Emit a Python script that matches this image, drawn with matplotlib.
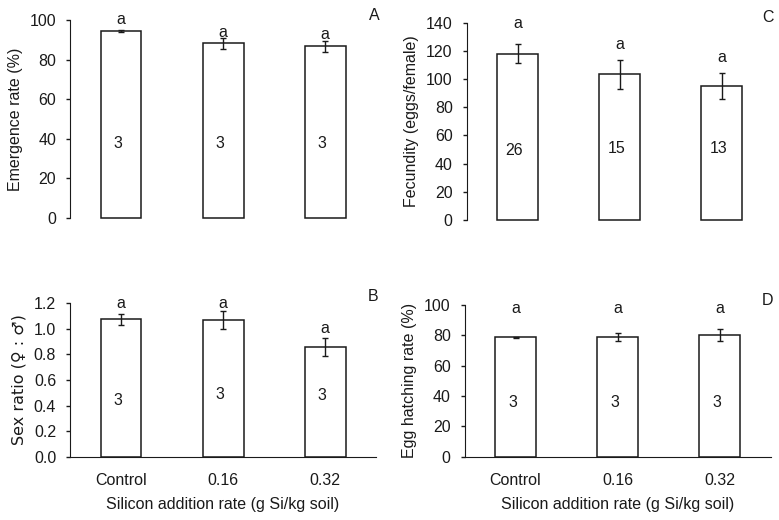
import matplotlib.pyplot as plt

plt.rcParams['font.family'] = ['Liberation Sans', 'DejaVu Sans']

treatments = ["Control", "0.16", "0.32"]

# A: emergence rate (%)
emerge_mean = [94.5, 88.3, 86.8]
emerge_se = [0.5, 2.7, 2.8]
emerge_n = ["3", "3", "3"]
emerge_letter_y = [100.3, 93.8, 92.8]
emerge_n_y = [37.4, 37.4, 37.4]

# B: sex ratio
sex_mean = [1.077, 1.07, 0.861]
sex_se = [0.043, 0.07, 0.07]
sex_n = ["3", "3", "3"]
sex_letter_y = [1.195, 1.195, 1.0]
sex_n_y = [0.436, 0.483, 0.475]

# C: fecundity (eggs/female)
fec_mean = [118.0, 103.5, 95.0]
fec_se = [6.6, 10.3, 9.0]
fec_n = ["26", "15", "13"]
fec_letter_y = [139.4, 124.3, 115.5]
fec_n_y = [49.0, 50.5, 50.5]

# D: egg hatching rate (%)
hatch_mean = [78.6, 78.9, 80.2]
hatch_se = [0.6, 2.7, 3.8]
hatch_n = ["3", "3", "3"]
hatch_letter_y = [98.0, 98.0, 98.0]
hatch_n_y = [35.7, 35.7, 35.7]

fig = plt.figure(figsize=(7.79, 5.2), dpi=100)

ink = '#1a1a1a'
fs = 11.5


def panel(rect, mean, se, n, letter_y, n_y, ylim, yticks, ylabel, tag, tagpos, bottom,
          label_family=None):
    ax = fig.add_axes(rect)
    x = range(len(mean))
    bars = ax.bar(x, mean, width=0.4, color='white', edgecolor=ink, linewidth=1.1)
    for b in bars:
        b.set_clip_on(False)
    ax.errorbar(x, mean, yerr=se, fmt='none', ecolor=ink, elinewidth=1.0,
                capsize=2, capthick=1.0)
    for xi, ly, ny, lab in zip(x, letter_y, n_y, n):
        ax.text(xi, ly, "a", ha='center', va='center', fontsize=fs, color=ink)
        ax.text(xi - 0.03, ny, lab, ha='center', va='center', fontsize=fs, color=ink)
    ax.set_xlim(-0.5, 2.5)
    ax.set_ylim(*ylim)
    ax.set_yticks(yticks)
    ax.set_yticklabels([f"{t:.1f}" if isinstance(t, float) else str(t) for t in yticks])
    ax.spines['top'].set_visible(False)
    ax.spines['right'].set_visible(False)
    ax.spines['left'].set_color(ink)
    ax.tick_params(axis='y', direction='out', length=3, width=1, pad=7,
                   labelsize=fs, colors=ink)
    if label_family:
        ax.set_ylabel(ylabel, fontsize=fs, color=ink, labelpad=5, family=label_family)
    else:
        ax.set_ylabel(ylabel, fontsize=fs, color=ink, labelpad=5)
    ax.set_xticks(list(x))
    if bottom:
        ax.spines['bottom'].set_color(ink)
        ax.set_xticklabels(treatments)
        ax.tick_params(axis='x', length=0, pad=12, labelsize=fs, colors=ink)
        ax.set_xlabel("Silicon addition rate (g Si/kg soil)", fontsize=fs,
                      color=ink, labelpad=6)
    else:
        ax.spines['bottom'].set_visible(False)
        ax.set_xticklabels([])
        ax.tick_params(axis='x', length=0)
    fig.text(tagpos[0], tagpos[1], tag, ha='center', va='center', fontsize=fs, color=ink)
    return ax


panel([0.0899, 0.5808, 0.393, 0.3807], emerge_mean, emerge_se, emerge_n,
      emerge_letter_y, emerge_n_y, (0, 100), [0, 20, 40, 60, 80, 100],
      "Emergence rate (%)", "A", (0.480, 0.971), False)

panel([0.5989, 0.5769, 0.393, 0.3795], fec_mean, fec_se, fec_n,
      fec_letter_y, fec_n_y, (0, 140), [0, 20, 40, 60, 80, 100, 120, 140],
      "Fecundity (eggs/female)", "C", (0.986, 0.967), False)

panel([0.0899, 0.1217, 0.393, 0.2950], sex_mean, sex_se, sex_n,
      sex_letter_y, sex_n_y, (0, 1.2), [0.0, 0.2, 0.4, 0.6, 0.8, 1.0, 1.2],
      "Sex ratio (\u2640 : \u2642)", "B", (0.479, 0.429), True,
      label_family=['DejaVu Sans'])

panel([0.5963, 0.1217, 0.393, 0.2917], hatch_mean, hatch_se, hatch_n,
      hatch_letter_y, hatch_n_y, (0, 100), [0, 20, 40, 60, 80, 100],
      "Egg hatching rate (%)", "D", (0.985, 0.423), True)

fig.savefig("out.png", dpi=100)
